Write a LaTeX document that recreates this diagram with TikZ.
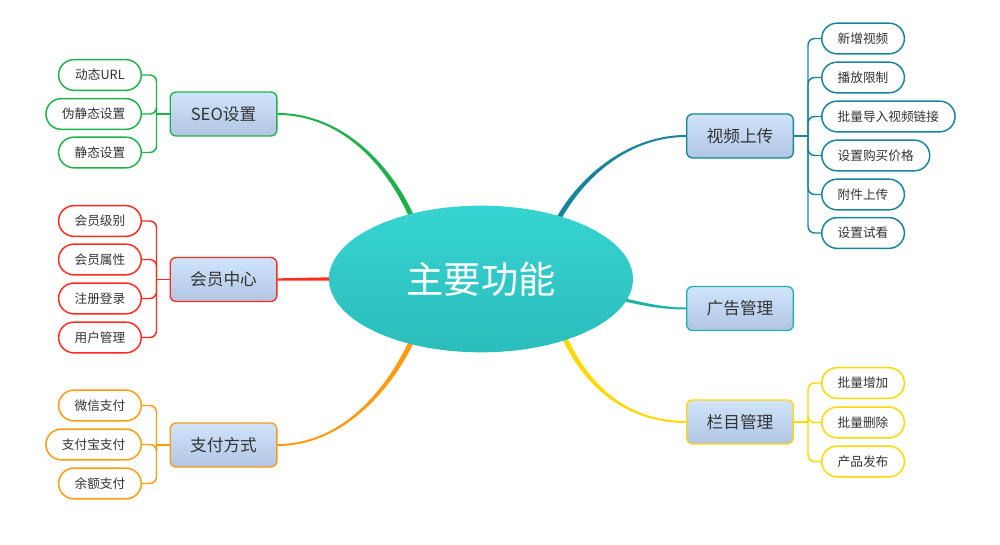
\documentclass[tikz,border=0pt]{standalone}
\usepackage{fontspec}
\setmainfont{Noto Sans CJK SC}
\usetikzlibrary{shapes.geometric,backgrounds,calc}
\definecolor{cgreen}{HTML}{1EB04A}
\definecolor{cred}{HTML}{FF2B1C}
\definecolor{corange}{HTML}{FF9A12}
\definecolor{cblue}{HTML}{17849C}
\definecolor{cteal}{HTML}{1DB3A6}
\definecolor{cyellow}{HTML}{FFD800}
\definecolor{ctext}{HTML}{333333}
\definecolor{ptop}{HTML}{D0E4FB}
\definecolor{pbot}{HTML}{B0C5E3}
\definecolor{etop}{HTML}{36D4D2}
\definecolor{ebot}{HTML}{2BBDBC}
\newcommand\taperbranch[7]{%
  \fill[#1] ($#2+#6$) .. controls ($#3+#6$) and ($#4+#7$) .. ($#5+#7$)
    -- ($#5-#7$) .. controls ($#4-#7$) and ($#3-#6$) .. ($#2-#6$) -- cycle;}
\begin{document}
\begin{tikzpicture}[x=0.75pt,y=-0.75pt,
  mainell/.style={ellipse, minimum width=228pt, minimum height=110pt, inner sep=0pt,
    top color=etop, bottom color=ebot, text=white, font=\fontsize{28}{32}\selectfont},
  parentbox/.style={draw=#1, line width=1pt, rounded corners=4.5pt, top color=ptop,
    bottom color=pbot, minimum width=80pt, minimum height=33pt, inner sep=0pt,
    font=\fontsize{12.5}{14}\selectfont, text=ctext},
  leafbox/.style={draw=#1, line width=1.1pt, rounded corners=11.5pt, fill=white,
    minimum height=23pt, minimum width=62pt, inner xsep=12pt, inner ysep=0pt,
    font=\fontsize{9.5}{11}\selectfont, text=ctext},
  leaflink/.style={draw=#1, line width=1.1pt, rounded corners=5pt},
]
\useasboundingbox (0,0) rectangle (1000,545);

% center
\node[mainell] (main) at (481,279) {主要功能};

% parents
\node[parentbox=cgreen] (seo) at (223.5,114) {SEO设置};
\node[parentbox=cred] (mem) at (223.5,279.5) {会员中心};
\node[parentbox=corange] (pay) at (223.5,445) {支付方式};
\node[parentbox=cblue] (vid) at (740,136) {视频上传};
\node[parentbox=cteal] (ad) at (740,308.5) {广告管理};
\node[parentbox=cyellow] (col) at (740,422) {栏目管理};

% left leaves
\node[leafbox=cgreen, anchor=east] (s1) at (142,75) {动态URL};
\node[leafbox=cgreen, anchor=east] (s2) at (142,114) {伪静态设置};
\node[leafbox=cgreen, anchor=east] (s3) at (142,152.5) {静态设置};

\node[leafbox=cred, anchor=east] (m1) at (142,221) {会员级别};
\node[leafbox=cred, anchor=east] (m2) at (142,259.5) {会员属性};
\node[leafbox=cred, anchor=east] (m3) at (142,298.5) {注册登录};
\node[leafbox=cred, anchor=east] (m4) at (142,337.5) {用户管理};

\node[leafbox=corange, anchor=east] (p1) at (142,405.5) {微信支付};
\node[leafbox=corange, anchor=east] (p2) at (142,444.5) {支付宝支付};
\node[leafbox=corange, anchor=east] (p3) at (142,483.5) {余额支付};

% right leaves
\node[leafbox=cblue, anchor=west] (v1) at (821,38.5) {新增视频};
\node[leafbox=cblue, anchor=west] (v2) at (821,77.5) {播放限制};
\node[leafbox=cblue, anchor=west] (v3) at (821,116.5) {批量导入视频链接};
\node[leafbox=cblue, anchor=west] (v4) at (821,155.5) {设置购买价格};
\node[leafbox=cblue, anchor=west] (v5) at (821,194.5) {附件上传};
\node[leafbox=cblue, anchor=west] (v6) at (821,233) {设置试看};

\node[leafbox=cyellow, anchor=west] (c1) at (821,383) {批量增加};
\node[leafbox=cyellow, anchor=west] (c2) at (821,422.5) {批量删除};
\node[leafbox=cyellow, anchor=west] (c3) at (821,461.5) {产品发布};

\begin{scope}[on background layer]
  % junction points
  \coordinate (seoJ) at ($(seo.west)+(-13,0)$);
  \coordinate (memJ) at ($(mem.west)+(-13,0)$);
  \coordinate (payJ) at ($(pay.west)+(-13,0)$);
  \coordinate (vidJ) at ($(vid.east)+(14,0)$);
  \coordinate (colJ) at ($(col.east)+(14,0)$);
  % leaf connectors
  \draw[leaflink=cgreen] (seo.west) -- (seoJ);
  \draw[leaflink=cred] (mem.west) -- (memJ);
  \draw[leaflink=corange] (pay.west) -- (payJ);
  \draw[leaflink=cblue] (vid.east) -- (vidJ);
  \draw[leaflink=cyellow] (col.east) -- (colJ);
  \foreach \l in {s1,s2,s3} \draw[leaflink=cgreen] (seoJ) |- (\l.east);
  \foreach \l in {m1,m2,m3,m4} \draw[leaflink=cred] (memJ) |- (\l.east);
  \foreach \l in {p1,p2,p3} \draw[leaflink=corange] (payJ) |- (\l.east);
  \foreach \l in {v1,v2,v3,v4,v5,v6} \draw[leaflink=cblue] (vidJ) |- (\l.west);
  \foreach \l in {c1,c2,c3} \draw[leaflink=cyellow] (colJ) |- (\l.west);

  % main branches
  \coordinate (seoS) at ($(main.139)!6pt!(main.center)$);
  \coordinate (payS) at ($(main.221)!6pt!(main.center)$);
  \coordinate (vidS) at ($(main.37)!6pt!(main.center)$);
  \coordinate (colS) at ($(main.326)!6pt!(main.center)$);
  \coordinate (adS) at ($(main.-8.4)!6pt!(main.center)$);
  \coordinate (memS) at ($(main.west)!6pt!(main.center)$);

  \taperbranch{cgreen}{(seoS)}{(392,170)}{(345,114)}{(seo.east)}{(2.4,-0.8)}{(0,-1)}
  \taperbranch{corange}{(payS)}{(392,385)}{(345,445)}{(pay.east)}{(2.35,0.84)}{(0,1)}
  \taperbranch{cblue}{(vidS)}{(582,175)}{(630,136)}{(vid.west)}{(2.37,0.81)}{(0,1)}
  \taperbranch{cyellow}{(colS)}{(590,395)}{(635,422)}{(col.west)}{(-2.36,0.83)}{(0,1)}
  \taperbranch{cteal}{(adS)}{(645,305)}{(665,308.5)}{(ad.west)}{(-0.4,1.55)}{(0,1)}
  \taperbranch{cred}{(memS)}{(310,279)}{(290,279.5)}{(mem.east)}{(0,1.6)}{(0,1.2)}
\end{scope}
\end{tikzpicture}
\end{document}
